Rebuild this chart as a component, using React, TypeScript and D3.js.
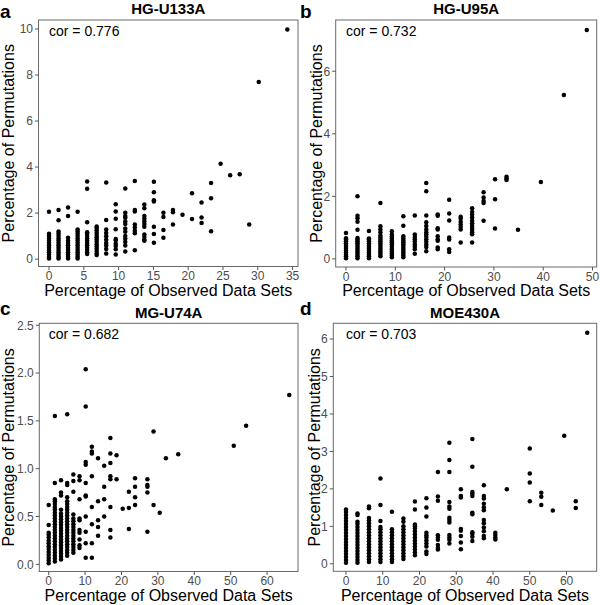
import React from "react";
import * as d3 from "d3";

// ---------- Panel a: HG-U133A ----------
const aCols = [0, 1.37, 2.74, 4.11, 5.48, 6.85, 8.22, 9.59, 10.96, 12.33, 13.7, 15.07, 16.44, 17.81, 19.18, 20.55, 21.92, 23.29, 24.66, 26.03, 27.4, 28.77, 30.14, 34.25];
const aVals = [
  [2.06, 0.03, 0.1, 0.2, 0.3, 0.4, 0.5, 0.6, 0.7, 0.8, 0.9, 1.0, 1.1],
  [2.13, 1.69, 0.03, 0.1, 0.2, 0.3, 0.4, 0.5, 0.6, 0.7, 0.8, 0.9, 1.0, 1.1, 1.2],
  [2.24, 1.87, 0.03, 0.1, 0.2, 0.3, 0.4, 0.5, 0.6, 0.7, 0.8, 0.93],
  [2.06, 0.03, 0.1, 0.2, 0.3, 0.4, 0.5, 0.6, 0.7, 0.8, 0.9, 1.0, 1.1, 1.2, 1.29],
  [3.37, 3.06, 1.6, 0.22, 0.3, 0.4, 0.5, 0.6, 0.7, 0.8, 0.9, 1.0, 1.1, 1.17],
  [0.18, 0.25, 0.35, 0.45, 0.55, 0.65, 0.75, 0.85, 0.95, 1.05, 1.15, 1.25, 1.35, 1.42],
  [3.33, 1.7, 1.29, 1.14, 0.99, 0.84, 0.7, 0.59, 0.44, 0.24],
  [2.39, 2.07, 1.76, 1.3, 0.87, 0.81, 0.67, 0.57, 0.43, 0.2],
  [3.07, 2.01, 1.87, 1.8, 1.64, 1.53, 1.33, 1.19, 1.01, 0.89, 0.74, 0.59, 0.33],
  [3.4, 2.14, 2.07, 1.5, 1.37, 1.23, 1.13, 0.39],
  [2.37, 2.21, 1.87, 1.76, 1.63, 1.53, 1.41, 1.07, 0.96, 0.84, 0.8],
  [3.36, 2.91, 2.56, 2.5, 1.41, 1.09, 0.71],
  [2.01, 1.83, 1.27, 0.93],
  [2.13, 2.04, 1.5],
  [1.93],
  [2.86, 1.74],
  [2.46, 1.81, 1.57],
  [3.31, 2.64, 1.21],
  [4.14],
  [3.64],
  [3.69],
  [1.51],
  [7.7],
  [9.98],
];
const aXTicks = [0, 5, 10, 15, 20, 25, 30, 35];
const aYTicks = [0, 2, 4, 6, 8, 10];

// ---------- Panel b: HG-U95A ----------
const bCols = [0, 2.33, 4.65, 6.98, 9.3, 11.63, 13.95, 16.28, 18.6, 20.93, 23.26, 25.58, 27.91, 30.23, 32.56, 34.88, 39.53, 44.19, 48.84];
const bVals = [
  [0.83, 0.02, 0.08, 0.14, 0.2, 0.26, 0.32, 0.38, 0.44, 0.5, 0.56, 0.62, 0.66],
  [2.0, 1.38, 1.3, 1.19, 0.93, 0.02, 0.08, 0.14, 0.2, 0.26, 0.32, 0.38, 0.44, 0.5, 0.56, 0.62, 0.67],
  [0.89, 0.02, 0.08, 0.14, 0.2, 0.26, 0.32, 0.38, 0.44, 0.5, 0.56, 0.62, 0.65],
  [1.79, 1.04, 0.94, 0.85, 0.08, 0.14, 0.2, 0.26, 0.32, 0.38, 0.44, 0.5, 0.56, 0.62, 0.68, 0.75],
  [0.88, 0.05, 0.11, 0.17, 0.23, 0.29, 0.35, 0.41, 0.47, 0.53, 0.59, 0.65, 0.71, 0.78],
  [1.36, 1.06, 0.05, 0.11, 0.17, 0.23, 0.29, 0.35, 0.41, 0.47, 0.53, 0.59, 0.65, 0.72],
  [1.39, 0.78, 0.7, 0.63, 0.55, 0.46, 0.39, 0.31, 0.16],
  [2.43, 2.16, 1.39, 1.17, 1.05, 0.94, 0.85, 0.79, 0.71, 0.63, 0.55, 0.46, 0.38, 0.24],
  [1.42, 1.38, 0.98, 0.94, 0.72, 0.63, 0.58, 0.36, 0.31],
  [1.89, 1.45, 1.23, 0.68, 0.62, 0.31, 0.22],
  [1.35, 1.28, 1.18, 1.1, 1.02, 0.94, 0.52],
  [1.62, 1.5, 1.42, 1.32, 1.22, 1.14, 1.06, 0.99, 0.92, 0.85, 0.79, 0.52],
  [2.13, 1.96, 1.85, 1.79, 1.22],
  [2.55, 1.91, 0.97],
  [2.63, 2.57, 2.52],
  [0.93],
  [2.46],
  [5.24],
  [7.32],
];
const bXTicks = [0, 10, 20, 30, 40, 50];
const bYTicks = [0, 2, 4, 6];

// ---------- Panel c: MG-U74A ----------
const cCols = [0, 1.69, 3.39, 5.08, 6.78, 8.47, 10.17, 11.86, 13.56, 15.25, 16.95, 18.64, 20.34, 22.03, 23.73, 27.12, 28.81, 30.51, 32.2, 35.59, 50.85, 54.24, 66.1];
const cVals = [
  [0.62, 0.41, 0.01, 0.04, 0.07, 0.1, 0.13, 0.16, 0.19, 0.22, 0.25, 0.28, 0.31, 0.33],
  [1.55, 0.85, 0.03, 0.06, 0.09, 0.12, 0.15, 0.18, 0.21, 0.24, 0.27, 0.3, 0.33, 0.36, 0.39, 0.42, 0.45, 0.48, 0.51, 0.54, 0.57, 0.6, 0.63, 0.66, 0.68],
  [0.88, 0.75, 0.72, 0.05, 0.08, 0.11, 0.14, 0.17, 0.2, 0.23, 0.26, 0.29, 0.32, 0.35, 0.38, 0.41, 0.44, 0.47, 0.5, 0.53, 0.57],
  [1.57, 0.85, 0.83, 0.09, 0.12, 0.15, 0.18, 0.21, 0.24, 0.27, 0.3, 0.33, 0.36, 0.39, 0.42, 0.45, 0.48, 0.51, 0.54, 0.57, 0.6, 0.63, 0.66, 0.7],
  [0.94, 0.87, 0.76, 0.12, 0.15, 0.18, 0.21, 0.24, 0.27, 0.3, 0.33, 0.36, 0.39, 0.42, 0.45, 0.48, 0.52],
  [0.92, 0.88, 0.68, 0.48, 0.46, 0.36, 0.33, 0.26, 0.2, 0.17],
  [2.04, 1.65, 1.07, 1.04, 0.85, 0.72, 0.71, 0.5, 0.34, 0.22, 0.07],
  [1.23, 1.18, 1.16, 0.92, 0.6, 0.42, 0.22, 0.07],
  [1.11, 0.66, 0.46, 0.39, 0.3],
  [1.03, 0.81, 0.68, 0.5],
  [1.32, 1.16, 1.06, 0.92, 0.89, 0.6, 0.36, 0.28],
  [1.14, 0.89],
  [0.58],
  [0.76, 0.59, 0.37],
  [0.9, 0.81, 0.7, 0.62],
  [0.89, 0.83, 0.81, 0.75, 0.34],
  [1.39, 0.62],
  [0.54],
  [1.11],
  [1.15],
  [1.24],
  [1.45],
  [1.77],
];
const cXTicks = [0, 10, 20, 30, 40, 50, 60];
const cYTicks = [0, 0.5, 1.0, 1.5, 2.0, 2.5];

// ---------- Panel d: MOE430A ----------
const dCols = [0, 3.125, 6.25, 9.375, 12.5, 15.625, 18.75, 21.875, 25, 28.125, 31.25, 34.375, 37.5, 40.625, 43.75, 50, 53.125, 56.25, 59.375, 62.5, 65.625];
const dVals = [
  [0.03, 0.1, 0.18, 0.26, 0.34, 0.42, 0.5, 0.58, 0.66, 0.74, 0.82, 0.9, 0.98, 1.06, 1.14, 1.22, 1.3, 1.38, 1.45],
  [1.34, 1.3, 0.03, 0.1, 0.18, 0.26, 0.34, 0.42, 0.5, 0.58, 0.66, 0.74, 0.82, 0.9, 0.98, 1.06, 1.12],
  [1.53, 1.48, 0.05, 0.12, 0.2, 0.28, 0.36, 0.44, 0.52, 0.6, 0.68, 0.76, 0.84, 0.92, 1.0, 1.08, 1.16, 1.22],
  [2.28, 1.57, 1.14, 0.05, 0.12, 0.2, 0.28, 0.36, 0.44, 0.52, 0.6, 0.68, 0.76, 0.84, 0.92, 0.98],
  [1.39, 0.05, 0.12, 0.2, 0.28, 0.36, 0.44, 0.52, 0.6, 0.68, 0.76, 0.84, 0.92],
  [1.21, 1.12, 0.13, 0.2, 0.28, 0.36, 0.44, 0.52, 0.6, 0.68, 0.76, 0.84, 0.92, 1.0],
  [1.66, 1.45, 0.23, 0.3, 0.38, 0.46, 0.54, 0.62, 0.7, 0.78, 0.86, 0.94, 1.0, 1.05],
  [1.75, 1.5, 1.26, 0.83, 0.76, 0.7, 0.62, 0.54, 0.46, 0.33, 0.26],
  [2.45, 1.8, 1.68, 0.76, 0.7, 0.64, 0.5, 0.43, 0.38],
  [3.23, 2.77, 2.45, 1.65, 1.53, 1.47, 1.23, 1.17, 1.1, 0.77, 0.7, 0.64, 0.54],
  [1.99, 1.81, 1.77, 0.93, 0.88, 0.74, 0.57, 0.39],
  [3.33, 2.59, 1.92, 1.87, 1.81, 1.36, 1.32, 0.84, 0.8, 0.72, 0.61],
  [2.1, 1.81, 1.74, 1.6, 1.5, 1.43, 1.17, 1.08, 0.97, 0.87, 0.74, 0.68],
  [0.83, 0.77, 0.7, 0.65],
  [1.99],
  [3.08, 2.41, 2.17, 1.67],
  [1.9, 1.79, 1.57],
  [1.42],
  [3.42],
  [1.67, 1.49],
  [6.17],
];
const dXTicks = [0, 10, 20, 30, 40, 50, 60];
const dYTicks = [0, 1, 2, 3, 4, 5, 6];

const FONT = "'Liberation Sans', Arial, Helvetica, sans-serif";

type Box = { l: number; r: number; t: number; b: number };

interface PanelProps {
  letter: string;
  title: string;
  cor: string;
  cols: number[];
  vals: number[][];
  xDomain: [number, number];
  yDomain: [number, number];
  xTicks: number[];
  yTicks: number[];
  yFmt: (v: number) => string;
  box: Box;
  letterX: number;
  letterY: number;
  titleY: number;
  yTitleX: number;
  xTitleY: number;
}

function Panel(p: PanelProps) {
  const { box } = p;
  const x = d3.scaleLinear().domain(p.xDomain).range([box.l, box.r]);
  const y = d3.scaleLinear().domain(p.yDomain).range([box.b, box.t]);
  const pts = p.cols.flatMap((cx, i) => p.vals[i].map((vy) => ({ x: cx, y: vy })));
  const cx = (box.l + box.r) / 2;
  const cy = (box.t + box.b) / 2;
  const tickCol = "#4d4d4d";
  return (
    <g>
      <text x={p.letterX} y={p.letterY} fontSize={19} fontWeight="bold" fontFamily={FONT} fill="#000">
        {p.letter}
      </text>
      <text x={cx} y={p.titleY} fontSize={15} fontWeight="bold" fontFamily={FONT} textAnchor="middle" fill="#000">
        {p.title}
      </text>
      <rect x={box.l} y={box.t} width={box.r - box.l} height={box.b - box.t} fill="#fff" />
      {pts.map((d, i) => (
        <circle key={i} cx={x(d.x)} cy={y(d.y)} r={2.25} fill="#000" />
      ))}
      <rect x={box.l} y={box.t} width={box.r - box.l} height={box.b - box.t} fill="none" stroke="#6a6a6a" strokeWidth={1} />
      <text x={x(0)} y={box.t + 16} fontSize={14} fontFamily={FONT} fill="#000">
        {p.cor}
      </text>
      {p.yTicks.map((t) => (
        <g key={"y" + t}>
          <line x1={box.l - 3.5} x2={box.l} y1={y(t)} y2={y(t)} stroke="#555" strokeWidth={1} />
          <text x={box.l - 5.5} y={y(t)} dy="0.36em" fontSize={12} fontFamily={FONT} textAnchor="end" fill={tickCol}>
            {p.yFmt(t)}
          </text>
        </g>
      ))}
      {p.xTicks.map((t) => (
        <g key={"x" + t}>
          <line x1={x(t)} x2={x(t)} y1={box.b} y2={box.b + 3.5} stroke="#555" strokeWidth={1} />
          <text x={x(t)} y={box.b + 13.5} fontSize={12} fontFamily={FONT} textAnchor="middle" fill={tickCol}>
            {t}
          </text>
        </g>
      ))}
      <text x={cx} y={p.xTitleY} fontSize={16} fontFamily={FONT} textAnchor="middle" fill="#000">
        Percentage of Observed Data Sets
      </text>
      <text
        transform={`translate(${p.yTitleX},${cy}) rotate(-90)`}
        fontSize={16}
        fontFamily={FONT}
        textAnchor="middle"
        fill="#000"
      >
        Percentage of Permutations
      </text>
    </g>
  );
}

const intFmt = (v: number) => String(v);
const oneDec = d3.format(".1f");

export default function App() {
  return (
    <svg
      width={600}
      height={605}
      viewBox="0 0 600 605"
      style={{ position: "absolute", left: 0, top: 0, background: "#fff" }}
    >
      <rect x={0} y={0} width={600} height={605} fill="#fff" />
      <Panel
        letter="a"
        title="HG-U133A"
        cor="cor = 0.776"
        cols={aCols}
        vals={aVals}
        xDomain={[-1.51, 35.78]}
        yDomain={[-0.32, 10.39]}
        xTicks={aXTicks}
        yTicks={aYTicks}
        yFmt={intFmt}
        box={{ l: 38.5, r: 298, t: 20, b: 266.5 }}
        letterX={0}
        letterY={17.5}
        titleY={14}
        yTitleX={13.5}
        xTitleY={296}
      />
      <Panel
        letter="b"
        title="HG-U95A"
        cor="cor = 0.732"
        cols={bCols}
        vals={bVals}
        xDomain={[-2.09, 50.85]}
        yDomain={[-0.26, 7.64]}
        xTicks={bXTicks}
        yTicks={bYTicks}
        yFmt={intFmt}
        box={{ l: 335.7, r: 596.7, t: 20, b: 267 }}
        letterX={300}
        letterY={17.5}
        titleY={14}
        yTitleX={321.5}
        xTitleY={296}
      />
      <Panel
        letter="c"
        title="MG-U74A"
        cor="cor = 0.682"
        cols={cCols}
        vals={cVals}
        xDomain={[-2.58, 68.5]}
        yDomain={[-0.075, 2.52]}
        xTicks={cXTicks}
        yTicks={cYTicks}
        yFmt={oneDec}
        box={{ l: 39.3, r: 298, t: 323.3, b: 571.5 }}
        letterX={0}
        letterY={315}
        titleY={318}
        yTitleX={13.5}
        xTitleY={601}
      />
      <Panel
        letter="d"
        title="MOE430A"
        cor="cor = 0.703"
        cols={dCols}
        vals={dVals}
        xDomain={[-3.45, 68.2]}
        yDomain={[-0.2, 6.42]}
        xTicks={dXTicks}
        yTicks={dYTicks}
        yFmt={intFmt}
        box={{ l: 333.3, r: 596.7, t: 323.3, b: 571.3 }}
        letterX={300}
        letterY={315}
        titleY={318}
        yTitleX={320}
        xTitleY={601}
      />
    </svg>
  );
}
